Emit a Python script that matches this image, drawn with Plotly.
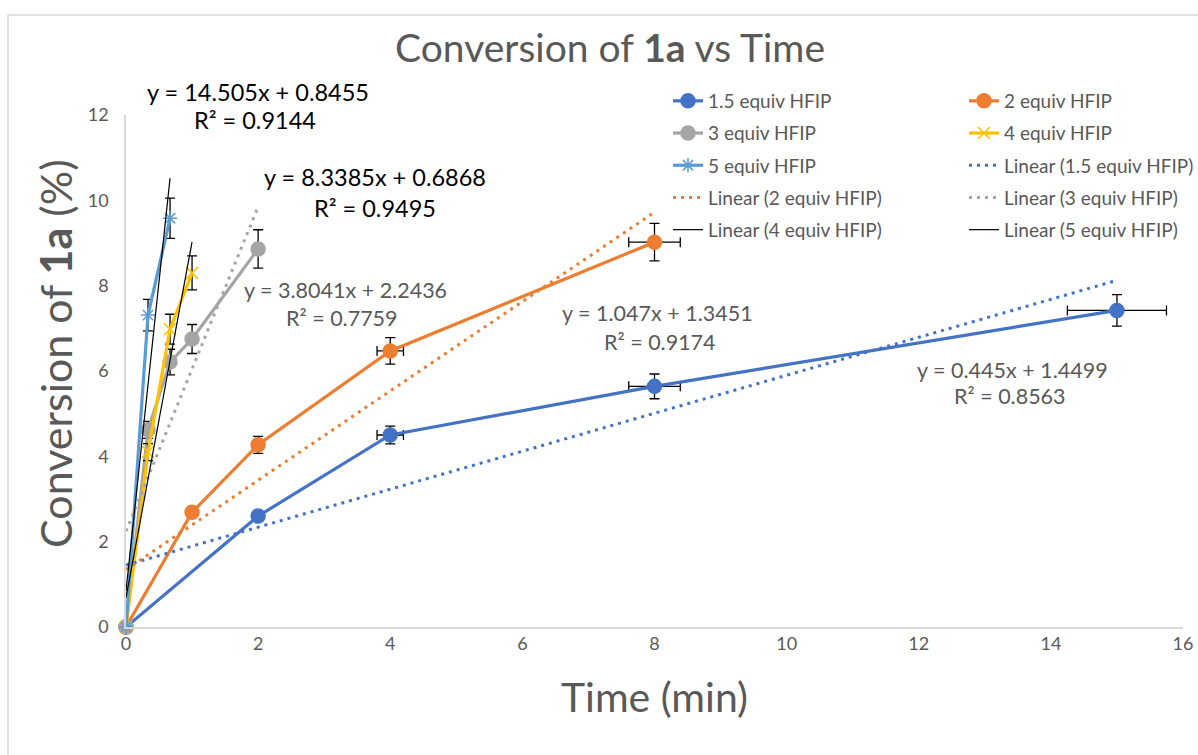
import plotly.graph_objects as go
import numpy as np

# ---------------- data ----------------
series_names = ["1.5 equiv HFIP", "2 equiv HFIP", "3 equiv HFIP", "4 equiv HFIP", "5 equiv HFIP"]

t_15 = [0, 2, 4, 8, 15]
c_15 = [0, 2.60, 4.50, 5.64, 7.42]
ey_15 = [0, 0.08, 0.21, 0.29, 0.37]
ex_15 = [0, 0, 0.20, 0.39, 0.75]

t_2 = [0, 1, 2, 4, 8]
c_2 = [0, 2.69, 4.27, 6.47, 9.02]
ey_2 = [0, 0.08, 0.20, 0.31, 0.44]
ex_2 = [0, 0, 0, 0.20, 0.39]

t_3 = [0, 0.333, 0.667, 1, 2]
c_3 = [0, 4.62, 6.21, 6.75, 8.86]
ey_3 = [0, 0.20, 0.30, 0.34, 0.45]

t_4 = [0, 0.333, 0.667, 1]
c_4 = [0, 4.10, 6.98, 8.30]
ey_4 = [0, 0.20, 0.35, 0.40]

t_5 = [0, 0.333, 0.667]
c_5 = [0, 7.31, 9.58]
ey_5 = [0, 0.37, 0.47]

fit_slopes = [0.445, 1.047, 3.8041, 8.3385, 14.505]
fit_intercepts = [1.4499, 1.3451, 2.2436, 0.6868, 0.8455]
fit_r2 = [0.8563, 0.9174, 0.7759, 0.9495, 0.9144]
fit_eq_text = ["y = 0.445x + 1.4499", "y = 1.047x + 1.3451", "y = 3.8041x + 2.2436",
               "y = 8.3385x + 0.6868", "y = 14.505x + 0.8455"]
fit_r2_text = ["R² = 0.8563", "R² = 0.9174", "R² = 0.7759", "R² = 0.9495", "R² = 0.9144"]

x_ticks = [0, 2, 4, 6, 8, 10, 12, 14, 16]
y_ticks = [0, 2, 4, 6, 8, 10, 12]

# ---------------- styles ----------------
FONT = "Lato"
GREY_TXT = "#595959"
colors = ["#4472C4", "#ED7D31", "#A5A5A5", "#FFC000", "#5B9BD5"]
symbols = ["circle", "circle", "circle", "x-thin-open", "asterisk-open"]
msizes = [14, 14, 14, 12, 12]

# plot area in pixels
PL, PR, PT, PB = 126, 1183, 115, 627

def px_x(px):
    return (px - PL) / (PR - PL)

def px_y(py):
    return (PB - py) / (PB - PT)

ts = [t_15, t_2, t_3, t_4, t_5]
cs = [c_15, c_2, c_3, c_4, c_5]
eys = [ey_15, ey_2, ey_3, ey_4, ey_5]
exs = [ex_15, ex_2, None, None, None]

# legend column assignment (Excel fills rows left to right)
series_legend = ["legend", "legend2", "legend", "legend2", "legend"]
trend_legend = ["legend2", "legend", "legend2", "legend", "legend2"]

fig = go.Figure()

for i in range(5):
    err_y = dict(type="data", array=eys[i], color="black", thickness=1.3, width=5, visible=True)
    err_x = None
    if exs[i] is not None:
        err_x = dict(type="data", array=exs[i], color="black", thickness=1.3, width=5, visible=True)
    fig.add_trace(go.Scatter(
        x=ts[i], y=cs[i], mode="lines+markers", name=series_names[i],
        legend=series_legend[i], legendgroup=f"s{i}",
        line=dict(color=colors[i], width=3.2),
        marker=dict(symbol=symbols[i], size=msizes[i], color=colors[i],
                    line=dict(color=colors[i], width=1.5)),
        error_y=err_y, error_x=err_x, cliponaxis=False,
    ))

for i in range(5):
    xs = np.array([0, max(ts[i])], dtype=float)
    ys = fit_slopes[i] * xs + fit_intercepts[i]
    if i < 3:
        ln = dict(color=colors[i], width=3, dash="3px,5px")
    else:
        ln = dict(color="black", width=1.2)
    fig.add_trace(go.Scatter(
        x=xs, y=ys, mode="lines", name=f"Linear ({series_names[i]})",
        legend=trend_legend[i], legendgroup=f"t{i}",
        line=ln, hoverinfo="skip", cliponaxis=False,
    ))

label_pos = [  # (eq center px, eq y px, r2 center px, r2 y px)
    (1012, 370, 1010, 396),
    (657, 313, 660, 342),
    (345, 290, 342, 318),
    (375, 177, 375, 208),
    (258, 92, 255, 120),
]
label_colors = [GREY_TXT, GREY_TXT, GREY_TXT, "black", "black"]
label_sizes = [21.5, 21.5, 21.5, 23.5, 23.5]
for i in range(5):
    ex_, ey_, rx_, ry_ = label_pos[i]
    fig.add_annotation(x=px_x(ex_), y=px_y(ey_), xref="paper", yref="paper", text=fit_eq_text[i],
                       xanchor="center", yanchor="middle", showarrow=False,
                       font=dict(family=FONT, size=label_sizes[i], color=label_colors[i]))
    fig.add_annotation(x=px_x(rx_), y=px_y(ry_), xref="paper", yref="paper", text=fit_r2_text[i],
                       xanchor="center", yanchor="middle", showarrow=False,
                       font=dict(family=FONT, size=label_sizes[i], color=label_colors[i]))

# y axis title as rotated annotation (Excel places it slightly above centre)
fig.add_annotation(x=px_x(55), y=px_y(354), xref="paper", yref="paper",
                   text="Conversion of <b>1a</b> (%)", textangle=-90, showarrow=False,
                   xanchor="center", yanchor="middle",
                   font=dict(family=FONT, size=43, color=GREY_TXT))

# outer chart border
fig.add_shape(type="rect", xref="paper", yref="paper",
              x0=px_x(8), x1=px_x(1205), y0=px_y(765), y1=px_y(15),
              line=dict(color="#D9D9D9", width=1.5), layer="below")

legend_common = dict(orientation="v", xanchor="left", yanchor="top",
                     font=dict(family=FONT, size=19, color=GREY_TXT),
                     bgcolor="rgba(0,0,0,0)", itemwidth=30, tracegroupgap=4.5,
                     traceorder="grouped")

fig.update_layout(
    width=1198, height=755,
    margin=dict(l=PL, r=1198 - PR, t=PT, b=755 - PB, autoexpand=False),
    paper_bgcolor="white", plot_bgcolor="white",
    font=dict(family=FONT, color=GREY_TXT),
    title=dict(text="Conversion of <b>1a</b> vs Time", x=610 / 1198, xanchor="center",
               y=1 - 48 / 755, yanchor="middle",
               font=dict(family=FONT, size=39, color=GREY_TXT)),
    showlegend=True,
    legend=dict(x=px_x(668), y=px_y(82), **legend_common),
    legend2=dict(x=px_x(964), y=px_y(82), **legend_common),
    xaxis=dict(range=[0, 16], tickvals=x_ticks, ticktext=[str(v) for v in x_ticks],
               showgrid=False, zeroline=False, showline=True, linecolor="#D9D9D9", linewidth=1.5,
               ticks="", automargin=False, tickfont=dict(family=FONT, size=18, color=GREY_TXT),
               title=dict(text="Time (min)", standoff=30,
                          font=dict(family=FONT, size=41, color=GREY_TXT))),
    yaxis=dict(range=[0, 12], tickvals=y_ticks, ticktext=[str(v) for v in y_ticks],
               showgrid=False, zeroline=False, showline=True, linecolor="#D9D9D9", linewidth=1.5,
               ticks="", automargin=False, ticklabelstandoff=12,
               tickfont=dict(family=FONT, size=18, color=GREY_TXT)),
)

fig.write_html("out.html", config={"displayModeBar": False},
               post_script="document.body.style.margin='0px';")
